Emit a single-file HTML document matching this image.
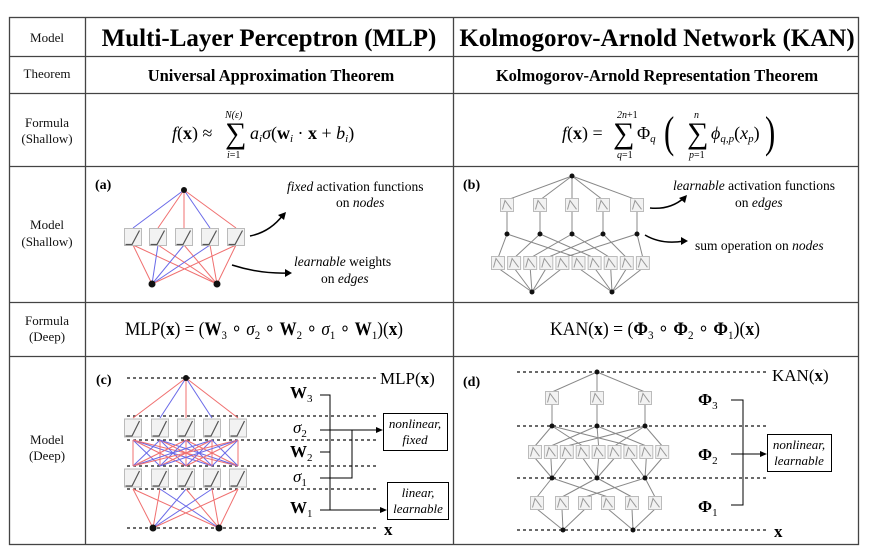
<!DOCTYPE html>
<html><head><meta charset="utf-8"><style>
html,body{margin:0;padding:0;background:#fff;}
svg{display:block;font-family:"Liberation Serif",serif;}
</style></head><body>
<svg id="s" width="869" height="557" viewBox="0 0 869 557" xmlns="http://www.w3.org/2000/svg">
<rect width="869" height="557" fill="#fff"/>
<g stroke="#444" stroke-width="1.3" fill="none">
<rect x="9.5" y="17.5" width="849" height="527"/>
<line x1="85.5" y1="17" x2="85.5" y2="545"/>
<line x1="453.5" y1="17" x2="453.5" y2="545"/>
<line x1="9" y1="56.5" x2="859" y2="56.5"/>
<line x1="9" y1="93.5" x2="859" y2="93.5"/>
<line x1="9" y1="166.5" x2="859" y2="166.5"/>
<line x1="9" y1="302.5" x2="859" y2="302.5"/>
<line x1="9" y1="356.5" x2="859" y2="356.5"/>
</g>
<g font-size="13" text-anchor="middle" fill="#111">
<text x="47" y="42">Model</text>
<text x="47" y="78">Theorem</text>
<text x="47" y="127">Formula</text>
<text x="47" y="143">(Shallow)</text>
<text x="47" y="229">Model</text>
<text x="47" y="246">(Shallow)</text>
<text x="47" y="325">Formula</text>
<text x="47" y="341">(Deep)</text>
<text x="47" y="444">Model</text>
<text x="47" y="460">(Deep)</text>
</g>
<g font-weight="bold" text-anchor="middle" fill="#000">
<text x="269" y="46" font-size="25">Multi-Layer Perceptron (MLP)</text>
<text x="657" y="46" font-size="25">Kolmogorov-Arnold Network (KAN)</text>
<text x="271" y="81" font-size="16.5">Universal Approximation Theorem</text>
<text x="657" y="81" font-size="16.5">Kolmogorov-Arnold Representation Theorem</text>
</g>
<!-- shallow formulas -->
<g fill="#000" font-size="18">
<text x="172" y="139"><tspan font-style="italic">f</tspan>(<tspan font-weight="bold">x</tspan>) ≈</text>
<text x="225" y="143" font-size="30">∑</text>
<text x="225" y="118" font-size="10" font-style="italic">N(ε)</text>
<text x="227" y="158" font-size="10"><tspan font-style="italic">i</tspan>=1</text>
<text x="250" y="139"><tspan font-style="italic">a<tspan font-size="11" dy="3">i</tspan><tspan dy="-3">σ</tspan></tspan>(<tspan font-weight="bold">w</tspan><tspan font-size="11" font-style="italic" dy="3">i</tspan><tspan dy="-3"> · </tspan><tspan font-weight="bold">x</tspan> + <tspan font-style="italic">b<tspan font-size="11" dy="3">i</tspan></tspan><tspan dy="-3">)</tspan></text>

<text x="562" y="139"><tspan font-style="italic">f</tspan>(<tspan font-weight="bold">x</tspan>) =</text>
<text x="613" y="143" font-size="30">∑</text>
<text x="617" y="118" font-size="10"><tspan font-style="italic">2n</tspan>+1</text>
<text x="617" y="158" font-size="10"><tspan font-style="italic">q</tspan>=1</text>
<text x="637" y="139">Φ<tspan font-size="11" font-style="italic" dy="3">q</tspan></text>
<text x="664" y="147" font-size="44" font-weight="100" transform="translate(664,147) scale(0.7,1) translate(-664,-147)">(</text>
<text x="687" y="143" font-size="30">∑</text>
<text x="694" y="118" font-size="10" font-style="italic">n</text>
<text x="689" y="158" font-size="10"><tspan font-style="italic">p</tspan>=1</text>
<text x="711" y="139" font-style="italic">ϕ<tspan font-size="11" dy="3">q,p</tspan><tspan dy="-3" font-style="normal">(</tspan>x<tspan font-size="11" dy="3">p</tspan><tspan dy="-3" font-style="normal">)</tspan></text>
<text x="765" y="147" font-size="44" transform="translate(765,147) scale(0.7,1) translate(-765,-147)">)</text>
</g>
<!-- deep formulas -->
<g fill="#000" font-size="19">
<text x="125" y="335" textLength="278" lengthAdjust="spacingAndGlyphs">MLP(<tspan font-weight="bold">x</tspan>) = (<tspan font-weight="bold">W</tspan><tspan font-size="12" dy="4">3</tspan><tspan dy="-4"> ∘ </tspan><tspan font-style="italic">σ</tspan><tspan font-size="12" dy="4">2</tspan><tspan dy="-4"> ∘ </tspan><tspan font-weight="bold">W</tspan><tspan font-size="12" dy="4">2</tspan><tspan dy="-4"> ∘ </tspan><tspan font-style="italic">σ</tspan><tspan font-size="12" dy="4">1</tspan><tspan dy="-4"> ∘ </tspan><tspan font-weight="bold">W</tspan><tspan font-size="12" dy="4">1</tspan><tspan dy="-4">)(</tspan><tspan font-weight="bold">x</tspan>)</text>
<text x="550" y="335" textLength="210" lengthAdjust="spacingAndGlyphs">KAN(<tspan font-weight="bold">x</tspan>) = (<tspan font-weight="bold">Φ</tspan><tspan font-size="12" dy="4">3</tspan><tspan dy="-4"> ∘ </tspan><tspan font-weight="bold">Φ</tspan><tspan font-size="12" dy="4">2</tspan><tspan dy="-4"> ∘ </tspan><tspan font-weight="bold">Φ</tspan><tspan font-size="12" dy="4">1</tspan><tspan dy="-4">)(</tspan><tspan font-weight="bold">x</tspan>)</text>
</g>
<g id="net"></g>
<!-- panel labels -->
<g font-weight="bold" font-size="14" fill="#000">
<text x="95" y="189">(a)</text><text x="463" y="189">(b)</text>
<text x="96" y="384">(c)</text><text x="463" y="386">(d)</text>
</g>
<!-- annotations -->
<g font-size="13.5" fill="#000">
<text x="287" y="191"><tspan font-style="italic">fixed</tspan> activation functions</text>
<text x="336" y="207">on <tspan font-style="italic">nodes</tspan></text>
<text x="294" y="266"><tspan font-style="italic">learnable</tspan> weights</text>
<text x="321" y="283">on <tspan font-style="italic">edges</tspan></text>
<text x="673" y="190"><tspan font-style="italic">learnable</tspan> activation functions</text>
<text x="735" y="207">on <tspan font-style="italic">edges</tspan></text>
<text x="695" y="250">sum operation on <tspan font-style="italic">nodes</tspan></text>
</g>
<g stroke="#000" stroke-width="1.5" fill="none">
<path d="M250 236 Q270 232 283 215"/><path d="M232 265 Q260 274 288 273"/>
<path d="M650 208 Q670 210 684 198"/><path d="M645 235 Q662 245 684 241"/>
</g>
<g fill="#000">
<polygon points="286,212 278,215 284,220"/><polygon points="292,273 285,269 285,277"/>
<polygon points="687,195 679,198 685,203"/><polygon points="688,241 681,237 681,245"/>
</g>
<!-- (c) labels -->
<g fill="#000" font-size="17">
<text x="380" y="384">MLP(<tspan font-weight="bold">x</tspan>)</text>
<text x="384" y="535" font-weight="bold">x</text>
<text x="290" y="398" font-weight="bold">W<tspan font-size="11" dy="4" font-weight="normal">3</tspan></text>
<text x="293" y="433" font-style="italic">σ<tspan font-size="11" dy="4" font-style="normal">2</tspan></text>
<text x="290" y="457" font-weight="bold">W<tspan font-size="11" dy="4" font-weight="normal">2</tspan></text>
<text x="293" y="482" font-style="italic">σ<tspan font-size="11" dy="4" font-style="normal">1</tspan></text>
<text x="290" y="513" font-weight="bold">W<tspan font-size="11" dy="4" font-weight="normal">1</tspan></text>
<text x="772" y="381">KAN(<tspan font-weight="bold">x</tspan>)</text>
<text x="774" y="537" font-weight="bold">x</text>
<text x="698" y="405" font-weight="bold">Φ<tspan font-size="11" dy="4" font-weight="normal">3</tspan></text>
<text x="698" y="460" font-weight="bold">Φ<tspan font-size="11" dy="4" font-weight="normal">2</tspan></text>
<text x="698" y="512" font-weight="bold">Φ<tspan font-size="11" dy="4" font-weight="normal">1</tspan></text>
</g>
<g stroke="#000" stroke-width="1" fill="none">
<path d="M320 395 H330 V510"/><path d="M320 452 H330"/><path d="M320 510 H384"/>
<path d="M320 430 H381"/><path d="M320 478 H352 V430"/>
<path d="M731 400 H743 V505 H731"/><path d="M731 454 H765"/>
<rect x="383.5" y="413.5" width="64" height="37"/>
<rect x="387.5" y="482.5" width="61" height="37"/>
<rect x="767.5" y="434.5" width="64" height="37"/>
</g>
<g fill="#000">
<polygon points="383,430 376,427 376,433"/><polygon points="387,510 380,507 380,513"/>
<polygon points="767,454 760,451 760,457"/>
</g>
<g font-size="13" font-style="italic" text-anchor="middle" fill="#000">
<text x="415" y="428">nonlinear,</text><text x="415" y="444">fixed</text>
<text x="418" y="497">linear,</text><text x="418" y="513">learnable</text>
<text x="799" y="449">nonlinear,</text><text x="799" y="465">learnable</text>
</g>
</svg>
<script>
var N='http://www.w3.org/2000/svg',g=document.getElementById('net');
function el(t,a){var e=document.createElementNS(N,t);for(var k in a)e.setAttribute(k,a[k]);g.appendChild(e);return e;}
function ln(x1,y1,x2,y2,c,w){el('line',{x1:x1,y1:y1,x2:x2,y2:y2,stroke:c,'stroke-width':w||1});}
function dot(x,y,r){el('circle',{cx:x,cy:y,r:r||3,fill:'#111'});}
function box(x,y,w,h,kan){el('rect',{x:x-w/2,y:y-h/2,width:w,height:h,fill:'#f2f2f2',stroke:'#bbb','stroke-width':1});
 if(kan) el('path',{d:'M'+(x-w/2+2)+' '+(y+h/2-2)+' L'+(x-2)+' '+(y-h/2+2)+' L'+(x+w/2-2)+' '+(y+h/3),stroke:'#999',fill:'none','stroke-width':1});
 else el('path',{d:'M'+(x-w/2+1)+' '+(y+h/2-1)+' L'+(x-1)+' '+(y+h/2-1)+' L'+(x+w/2-2)+' '+(y-h/2+2),stroke:'#555',fill:'none','stroke-width':1.2});}
function dash(x1,x2,y){el('line',{x1:x1,y1:y,x2:x2,y2:y,stroke:'#111','stroke-width':1.2,'stroke-dasharray':'3,3'});}
var R='#f07070',B='#6a6ae8';
var ax=[133,158,184,210,236];
ax.forEach(function(x,i){ln(184,190,x,228,(i==0||i==3)?B:R);});
ax.forEach(function(x,i){ln(x,245,152,284,(i==1||i==2||i==3)?B:R);ln(x,245,217,284,R);});
ax.forEach(function(x){box(x,237,17,17);});
dot(184,190);dot(152,284,3.5);dot(217,284,3.5);
dash(127,378,378);dash(127,378,416);dash(127,378,440);dash(127,378,466);dash(127,378,489);dash(127,378,528);
var cx=[133,160,186,212,238];
cx.forEach(function(x,i){ln(186,378,x,418,(i%2)?B:R);});
cx.forEach(function(x,i){cx.forEach(function(y,j){ln(x,440,y,466,((i+j)%2)?B:R);});});
cx.forEach(function(x,i){ln(x,489,153,528,(i==2||i==3)?B:R);ln(x,489,219,528,(i==1)?B:R);});
cx.forEach(function(x){box(x,428,17,18);box(x,478,17,18);});
dot(186,378);dot(153,528,3.5);dot(219,528,3.5);
var G='#888';
var bx=[507,540,572,603,637];
bx.forEach(function(x){ln(572,176,x,200,G);ln(x,210,x,234,G);});
for(var j=0;j<2;j++)for(var k=0;k<5;k++){var i=j*5+k,xx=498+i*16.1;ln([532,612][j],292,xx,268,G);ln(xx,258,bx[k],234,G);}
bx.forEach(function(x){box(x,205,13,13,1);dot(x,234,2.5);});
for(var i=0;i<10;i++)box(498+i*16.1,263,13,13,1);
dot(572,176,2.5);dot(532,292,2.5);dot(612,292,2.5);
dash(517,767,372);dash(517,767,426);dash(517,767,478);dash(517,767,530);
var dn=[552,597,645];
dn.forEach(function(x){ln(597,372,x,392,G);ln(x,404,x,426,G);});
for(var j=0;j<3;j++)for(var k=0;k<3;k++){var i=j*3+k,xx=535+i*15.9;ln(dn[j],478,xx,458,G);ln(xx,446,dn[k],426,G);}
var l1=[537,562,585,608,632,655];
for(var j=0;j<2;j++)for(var k=0;k<3;k++){var i=j*3+k;ln([563,633][j],530,l1[i],509,G);ln(l1[i],497,dn[k],478,G);}
dn.forEach(function(x){box(x,398,13,13,1);dot(x,426,2.5);dot(x,478,2.5);});
for(var i=0;i<9;i++)box(535+i*15.9,452,13,13,1);
l1.forEach(function(x){box(x,503,13,13,1);});
dot(597,372,2.5);dot(563,530,2.5);dot(633,530,2.5);
</script>
</body></html>
